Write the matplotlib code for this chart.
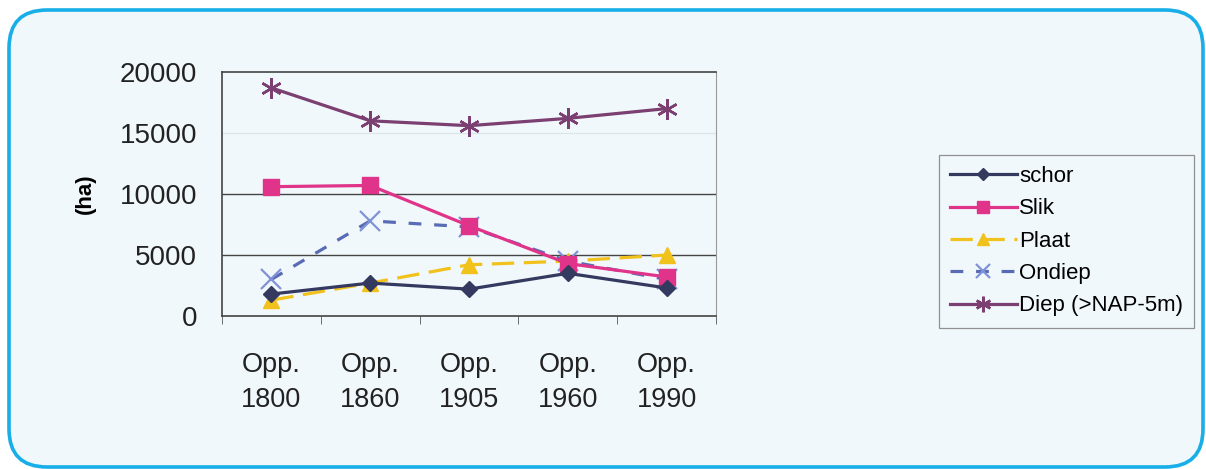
import matplotlib.pyplot as plt
from matplotlib.patches import FancyBboxPatch

plt.rcParams["font.family"] = ["Liberation Sans", "DejaVu Sans"]

categories = ["Opp.\n1800", "Opp.\n1860", "Opp.\n1905", "Opp.\n1960", "Opp.\n1990"]
schor = [1800, 2700, 2200, 3500, 2300]
slik = [10600, 10700, 7400, 4300, 3200]
plaat = [1300, 2700, 4200, 4500, 5000]
ondiep = [3000, 7800, 7300, 4500, 3000]
diep = [18700, 16000, 15600, 16200, 17000]
yticks = [0, 5000, 10000, 15000, 20000]

W, H = 1206, 469
fig = plt.figure(figsize=(W / 100, H / 100), dpi=100)
fig.patch.set_facecolor("white")

# rounded panel behind the chart, drawn in pixel units
bg = fig.add_axes([0, 0, 1, 1], zorder=-10)
bg.set_xlim(0, W)
bg.set_ylim(H, 0)
bg.axis("off")
bg.add_patch(FancyBboxPatch((9, 10), 1194, 457,
                            boxstyle="round,pad=0,rounding_size=38",
                            facecolor="#f1f8fb", edgecolor="#18aee8",
                            linewidth=2.6))

ax = fig.add_axes([222 / W, 1 - 316 / H, (716 - 222) / W, (316 - 72) / H])
ax.set_facecolor("none")
x = list(range(len(categories)))

ax.plot(x, diep, color="#7b3f72", lw=2.3, marker=(6, 2, 0), ms=15, mew=1.8,
        label="Diep (>NAP-5m)", zorder=5)
ax.plot(x, ondiep, color="#5a6bb5", lw=2.3, ls=(0, (4, 4)), marker="x", ms=14,
        mew=1.6, markeredgecolor="#7f92d8", label="Ondiep", zorder=4)
ax.plot(x, plaat, color="#f2c21c", lw=2.3, ls=(0, (7, 3)), marker="^", ms=11,
        label="Plaat", zorder=3)
ax.plot(x, slik, color="#e0338a", lw=2.3, marker="s", ms=12, label="Slik", zorder=4)
ax.plot(x, schor, color="#34395f", lw=2.3, marker="D", ms=8, label="schor", zorder=6)

ax.set_xlim(-0.5, len(categories) - 0.5)
ax.set_ylim(0, 20000)
ax.set_yticks(yticks)
ax.set_yticklabels([str(v) for v in yticks], fontsize=20, color="#222222")
ax.set_xticks(x)
ax.set_xticklabels(categories, fontsize=19.5, color="#222222", linespacing=1.45)
ax.set_xticks([i - 0.5 for i in range(len(categories) + 1)], minor=True)
ax.tick_params(axis="x", which="major", length=0, pad=26)
ax.tick_params(axis="x", which="minor", length=6, color="#555555")
ax.tick_params(axis="y", length=0, pad=18)
for v in (5000, 10000):
    ax.axhline(v, color="#444444", lw=1.0, zorder=1)
ax.axhline(15000, color="#dde4e7", lw=0.8, zorder=1)
for side in ("left", "bottom", "top"):
    ax.spines[side].set_color("#444444")
    ax.spines[side].set_linewidth(1.2)
ax.spines["right"].set_color("#999999")
ax.set_ylabel("(ha)", fontsize=16, fontweight="bold")
ax.yaxis.set_label_coords((96 - 222) / 494, 0.5)

handles, labels = ax.get_legend_handles_labels()
order = [4, 3, 2, 1, 0]
leg = fig.legend([handles[i] for i in order], [labels[i] for i in order],
                 loc="upper left", bbox_to_anchor=(939 / W, 1 - 155 / H),
                 fontsize=16, frameon=True, fancybox=False, handlelength=3.0,
                 labelspacing=0.51, borderpad=0.5, handletextpad=0.1,
                 borderaxespad=0, markerscale=0.75)
leg.get_frame().set_edgecolor("#777777")
leg.get_frame().set_facecolor("#f1f8fb")
leg.get_frame().set_linewidth(0.9)

fig.savefig("out.png", dpi=100)
